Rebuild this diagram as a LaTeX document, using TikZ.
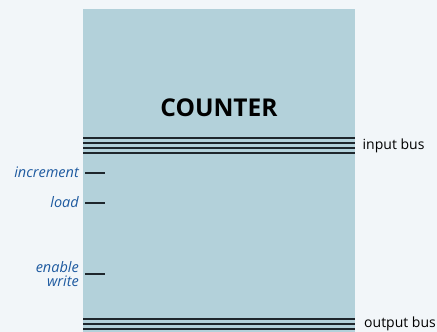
\documentclass[tikz,border=0pt]{standalone}
\usepackage{fontspec}
\setmainfont{Open Sans}
\definecolor{pagebg}{RGB}{242,246,249}
\definecolor{boxfill}{RGB}{179,209,218}
\definecolor{sigblue}{RGB}{30,90,160}
\definecolor{wire}{RGB}{30,38,44}
\tikzset{
  wireline/.style={draw=wire, line width=1.9pt},
  ctrllabel/.style={font=\fontsize{14.5}{14}\selectfont\itshape, text=sigblue, anchor=east, inner sep=0pt, align=right},
  buslabel/.style={font=\fontsize{14}{15}\selectfont, text=black, anchor=west, inner sep=0pt},
}
\begin{document}
\begin{tikzpicture}[x=1pt, y=-1pt]
  \useasboundingbox (0,0) rectangle (437,332);
  \fill[pagebg] (0,0) rectangle (437,332);
  \clip (0,0) rectangle (437,332);
  % counter body
  \fill[boxfill] (83,9) rectangle (355,340);
  \node[font=\fontsize{24.5}{26}\selectfont\bfseries, inner sep=0pt] (title) at (219,107.5) {COUNTER};

  % input bus: four parallel wires
  \foreach \y [count=\i] in {137.7,142.7,147.7,152.7} {
    \coordinate (inL\i) at (83,\y);
    \coordinate (inR\i) at (355,\y);
    \draw[wireline] (inL\i) -- (inR\i);
  }
  \node[buslabel] (inbus) at (362.5,145.5) {input bus};

  % output bus: four parallel wires
  \foreach \y [count=\i] in {319.3,324.3,329.3,334.3} {
    \coordinate (outL\i) at (83,\y);
    \coordinate (outR\i) at (355,\y);
    \draw[wireline] (outL\i) -- (outR\i);
  }
  \node[buslabel] (outbus) at (364,324) {output bus};

  % control inputs
  \node[ctrllabel] (inc) at (79,172.5) {increment};
  \coordinate (incA) at (85,173.3);
  \coordinate (incB) at (105,173.3);
  \draw[wireline] (incA) -- (incB);

  \node[ctrllabel] (ld) at (79,202.5) {load};
  \coordinate (ldA) at (85,203.3);
  \coordinate (ldB) at (105,203.3);
  \draw[wireline] (ldA) -- (ldB);

  \node[ctrllabel] (en) at (79,274) {enable\\write};
  \coordinate (enA) at (85,274.2);
  \coordinate (enB) at (105,274.2);
  \draw[wireline] (enA) -- (enB);
\end{tikzpicture}
\end{document}
